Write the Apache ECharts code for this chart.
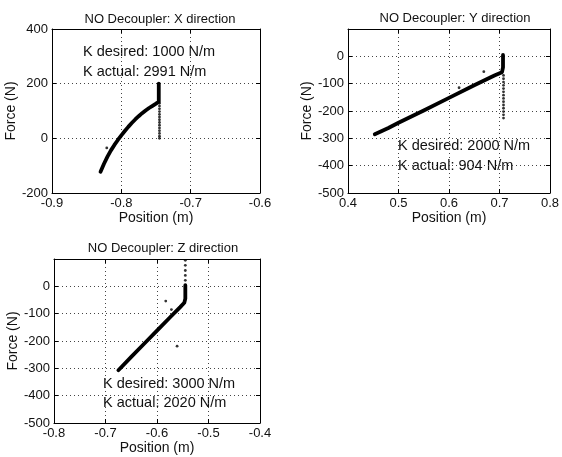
<!DOCTYPE html>
<html><head><meta charset="utf-8">
<script src="https://cdn.jsdelivr.net/npm/echarts@6/dist/echarts.min.js"></script>
<style>html,body{margin:0;padding:0;background:#fff}#c{width:562px;height:457px}</style>
</head><body><div id="c"></div>
<script>
// ---- Data ----
const titles = ['NO Decoupler: X direction', 'NO Decoupler: Y direction', 'NO Decoupler: Z direction'];
const kDesired = ['K desired: 1000 N/m', 'K desired: 2000 N/m', 'K desired: 3000 N/m'];
const kActual = ['K actual: 2991 N/m', 'K actual: 904 N/m', 'K actual: 2020 N/m'];

// X direction
const xCurve = [[-0.830,-122],[-0.825,-93],[-0.820,-67],[-0.815,-44],[-0.810,-24],[-0.805,-6],[-0.800,11],[-0.795,27],[-0.790,42],[-0.785,56],[-0.780,69],[-0.775,81],[-0.770,92],[-0.765,102],[-0.760,111],[-0.755,119],[-0.750,127],[-0.746,134],[-0.746,160],[-0.746,200]];
const xDots = [[-0.745,128],[-0.745,118],[-0.745,108],[-0.745,98],[-0.745,88],[-0.745,78],[-0.745,68],[-0.745,58],[-0.745,48],[-0.745,38],[-0.745,28],[-0.745,18],[-0.745,8],[-0.745,0],[-0.821,-35]];

// Y direction
const yCurve = [[0.453,-285],[0.48,-262],[0.5,-243],[0.55,-198],[0.6,-152],[0.65,-106],[0.69,-70],[0.705,-58],[0.707,-40],[0.707,-20],[0.707,5]];
const yDots = [[0.708,-70],[0.708,-82],[0.708,-94],[0.708,-106],[0.708,-118],[0.708,-130],[0.708,-142],[0.708,-154],[0.708,-166],[0.708,-178],[0.708,-190],[0.708,-202],[0.708,-214],[0.708,-226],[0.669,-56],[0.62,-115]];

// Z direction
const zCurve = [[-0.675,-307],[-0.65,-258],[-0.625,-210],[-0.6,-162],[-0.575,-114],[-0.555,-76],[-0.547,-60],[-0.545,-45],[-0.545,-20],[-0.545,4]];
const zDots = [[-0.545,22],[-0.545,40],[-0.545,58],[-0.545,77],[-0.545,95],[-0.583,-54],[-0.561,-219],[-0.572,-85]];

const xRange = [[-0.9,-0.6,0.1],[0.4,0.8,0.1],[-0.8,-0.4,0.1]];
const yRange = [[-200,400,200],[-500,100,100],[-500,100,100]];

// ---- Layout ----
const grids = [
  {left:52, top:29, width:208, height:164},
  {left:348, top:29, width:205, height:164},
  {left:54, top:259, width:206, height:164}
];
const FONT = 'Liberation Sans, Arial, Helvetica, sans-serif';
const txt = {color:'#111', fontFamily:FONT, fontSize:13};
const nameTxt = {color:'#111', fontFamily:FONT, fontSize:14};

const xAxis = [], yAxis = [];
grids.forEach((g,i)=>{
  xAxis.push({gridIndex:i, type:'value', min:xRange[i][0], max:xRange[i][1], interval:xRange[i][2],
    name:'Position (m)', nameLocation:'middle', nameGap:18, nameTextStyle:nameTxt,
    axisLine:{onZero:false, lineStyle:{color:'#000', width:1}},
    axisTick:{inside:true, length:4, lineStyle:{color:'#000'}},
    axisLabel:Object.assign({margin:4, formatter:v=>(+v).toFixed(1)}, txt),
    splitLine:{show:true, lineStyle:{color:'#444', width:1, type:[1,3]}}});
  xAxis.push({gridIndex:i, type:'value', position:'top', min:xRange[i][0], max:xRange[i][1], interval:xRange[i][2],
    axisLine:{onZero:false, lineStyle:{color:'#000', width:1}},
    axisTick:{inside:true, length:4, lineStyle:{color:'#000'}},
    axisLabel:{show:false}, splitLine:{show:false}});
  yAxis.push({gridIndex:i, type:'value', min:yRange[i][0], max:yRange[i][1], interval:yRange[i][2],
    name:'Force (N)', nameLocation:'middle', nameGap:i===0?32:30, nameTextStyle:nameTxt,
    axisLine:{onZero:false, lineStyle:{color:'#000', width:1}},
    axisTick:{inside:true, length:4, lineStyle:{color:'#000'}},
    axisLabel:Object.assign({margin:4, formatter:v=>(i>0 && v===100)?'':String(Math.round(v))}, txt),
    splitLine:{show:true, lineStyle:{color:'#444', width:1, type:[1,3]}}});
  yAxis.push({gridIndex:i, type:'value', position:'right', min:yRange[i][0], max:yRange[i][1], interval:yRange[i][2],
    axisLine:{onZero:false, lineStyle:{color:'#000', width:1}},
    axisTick:{inside:true, length:4, lineStyle:{color:'#000'}},
    axisLabel:{show:false}, splitLine:{show:false}});
});

const curves = [xCurve, yCurve, zCurve];
const dots = [xDots, yDots, zDots];
const series = [];
curves.forEach((c,i)=>{
  series.push({type:'line', xAxisIndex:2*i, yAxisIndex:2*i, data:c, symbol:'none', smooth:false,
    lineStyle:{color:'#000', width:3.8, join:'round', cap:'round'}, silent:true, animation:false});
  series.push({type:'scatter', xAxisIndex:2*i, yAxisIndex:2*i, data:dots[i], symbol:'circle', symbolSize:2.8,
    itemStyle:{color:'#000'}, silent:true, animation:false});
});

const titleCenters = [[155,8],[450,7],[158,237]];
const annot = [[83,52,72],[398,146,166],[103,384,403]];
const graphic = [];
annot.forEach((a,i)=>{
  graphic.push({type:'text', left:a[0], top:a[1]-8, style:{text:kDesired[i], font:'14.5px '+FONT, fill:'#111'}});
  graphic.push({type:'text', left:a[0], top:a[2]-8, style:{text:kActual[i], font:'14.5px '+FONT, fill:'#111'}});
});

const chart = echarts.init(document.getElementById('c'), null, {renderer:'canvas'});
chart.setOption({
  backgroundColor:'#fff',
  animation:false,
  title: titles.map((t,i)=>({text:t, left:titleCenters[i][0], top:titleCenters[i][1], textAlign:'center',
    textStyle:{color:'#111', fontFamily:FONT, fontSize:13, fontWeight:'normal'}})),
  grid: grids,
  xAxis, yAxis, series, graphic
});
</script></body></html>
